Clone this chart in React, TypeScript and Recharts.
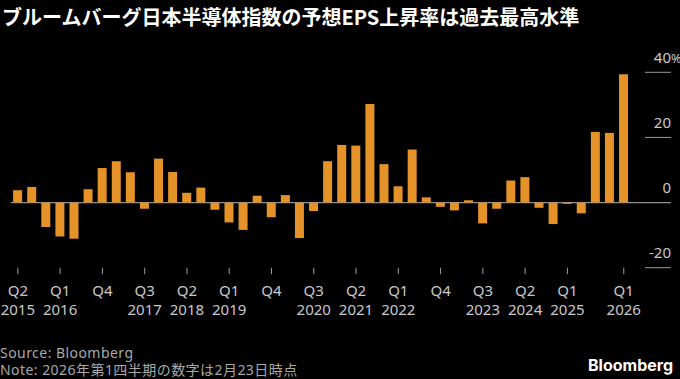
import { BarChart, Bar, XAxis, YAxis, CartesianGrid } from 'recharts';

// Quarterly year-on-year change in consensus EPS, Bloomberg Japan semiconductor index (%)
const quarters = [
  'Q2 2015', 'Q3 2015', 'Q4 2015',
  'Q1 2016', 'Q2 2016', 'Q3 2016', 'Q4 2016',
  'Q1 2017', 'Q2 2017', 'Q3 2017', 'Q4 2017',
  'Q1 2018', 'Q2 2018', 'Q3 2018', 'Q4 2018',
  'Q1 2019', 'Q2 2019', 'Q3 2019', 'Q4 2019',
  'Q1 2020', 'Q2 2020', 'Q3 2020', 'Q4 2020',
  'Q1 2021', 'Q2 2021', 'Q3 2021', 'Q4 2021',
  'Q1 2022', 'Q2 2022', 'Q3 2022', 'Q4 2022',
  'Q1 2023', 'Q2 2023', 'Q3 2023', 'Q4 2023',
  'Q1 2024', 'Q2 2024', 'Q3 2024', 'Q4 2024',
  'Q1 2025', 'Q2 2025', 'Q3 2025', 'Q4 2025',
  'Q1 2026',
];

const epsGrowth = [
  3.8, 4.8, -7.5,
  -10.4, -11.1, 4.1, 10.6,
  12.7, 9.3, -1.9, 13.5,
  9.4, 3.0, 4.6, -2.2,
  -6.1, -8.4, 2.1, -4.5,
  2.3, -10.9, -2.6, 12.7,
  17.7, 17.5, 30.3, 11.8,
  5.0, 16.3, 1.6, -1.3,
  -2.4, 0.7, -6.4, -1.9,
  6.8, 7.8, -1.6, -6.6,
  -0.4, -3.3, 21.7, 21.4,
  39.4,
];

// labelled x ticks, with the year printed under the quarter when it changes
const labelledTicks = [
  'Q2 2015', 'Q1 2016', 'Q4 2016', 'Q3 2017', 'Q2 2018', 'Q1 2019', 'Q4 2019', 'Q3 2020',
  'Q2 2021', 'Q1 2022', 'Q4 2022', 'Q3 2023', 'Q2 2024', 'Q1 2025', 'Q1 2026',
];
const tickYears = [
  '2015', '2016', '', '2017', '2018', '2019', '', '2020',
  '2021', '2022', '', '2023', '2024', '2025', '2026',
];

const yTicks = [-20, 0, 20, 40];

const data = quarters.map((q, i) => ({ quarter: q, growth: epsGrowth[i] }));

const FONT = '"Noto Sans", "Noto Sans CJK JP", sans-serif';
const BAR = '#E59229';
const AXIS_RIGHT = 671;

function XTick({ x, y, payload }: any) {
  const idx = labelledTicks.indexOf(payload.value);
  if (idx < 0) return null;
  const [q] = String(payload.value).split(' ');
  return (
    <g>
      <line x1={x} x2={x} y1={y} y2={y + 6.5} stroke="#9a9a9a" strokeWidth={1} />
      <text x={x} y={y + 28} textAnchor="middle" fill="#c8c8c8" fontSize={15} fontFamily={FONT}>
        {q}
      </text>
      <text x={x} y={y + 47.5} textAnchor="middle" fill="#c8c8c8" fontSize={15} fontFamily={FONT}>
        {tickYears[idx]}
      </text>
    </g>
  );
}

function YTick({ y, payload }: any) {
  const v = payload.value as number;
  return (
    <g>
      {v !== 0 && (
        <line x1={645} x2={AXIS_RIGHT} y1={y} y2={y} stroke="#9a9a9a" strokeWidth={1} />
      )}
      <text x={AXIS_RIGHT} y={y - 9.8} textAnchor="end" fill="#c8c8c8" fontSize={15} fontFamily={FONT}>
        {v}
      </text>
      {v === 40 && (
        <text x={AXIS_RIGHT} y={y - 9.8} textAnchor="start" fill="#c8c8c8" fontSize={12.5} fontFamily={FONT}>
          %
        </text>
      )}
    </g>
  );
}

const footStyle = {
  position: 'absolute' as const,
  left: 0,
  color: '#a8a8a8',
  fontSize: 14,
  letterSpacing: 0.45,
  lineHeight: '16px',
  whiteSpace: 'nowrap' as const,
};

export default function App() {
  return (
    <div style={{ position: 'relative', width: 680, height: 379, background: '#000', overflow: 'hidden', fontFamily: FONT }}>
      <style>{`body{margin:0;background:#000}`}</style>
      <div
        style={{
          position: 'absolute', left: 2, top: 5, color: '#fff', fontSize: 20, fontWeight: 700,
          lineHeight: '24px', fontFamily: '"Noto Sans CJK JP", "Noto Sans", sans-serif', whiteSpace: 'nowrap',
        }}
      >
        ブルームバーグ日本半導体指数の予想EPS上昇率は過去最高水準
      </div>
      <BarChart
        width={680}
        height={379}
        data={data}
        margin={{ top: 72.3, right: 0, left: 10.8, bottom: 71.3 }}
        barCategoryGap="16.5%"
      >
        <CartesianGrid vertical={false} horizontalValues={[0]} stroke="#8f8f8f" strokeWidth={1.2} />
        <XAxis
          dataKey="quarter"
          interval={0}
          height={40}
          axisLine={false}
          tickLine={false}
          tickSize={0}
          tickMargin={0}
          padding={{ left: 0, right: 40.2 }}
          tick={<XTick />}
        />
        <YAxis
          orientation="right"
          width={9}
          domain={[-20, 40]}
          ticks={yTicks}
          interval={0}
          axisLine={false}
          tickLine={false}
          tick={<YTick />}
        />
        <Bar dataKey="growth" fill={BAR} isAnimationActive={false} />
      </BarChart>
      <div style={{ ...footStyle, top: 344.5 }}>Source: Bloomberg</div>
      <div style={{ ...footStyle, top: 361.5 }}>Note: 2026年第1四半期の数字は2月23日時点</div>
      <div
        style={{
          position: 'absolute', right: 7, top: 355, color: '#fff', fontSize: 16, fontWeight: 700,
          lineHeight: '20px', fontFamily: 'Inter, "Noto Sans", sans-serif',
        }}
      >
        Bloomberg
      </div>
    </div>
  );
}
